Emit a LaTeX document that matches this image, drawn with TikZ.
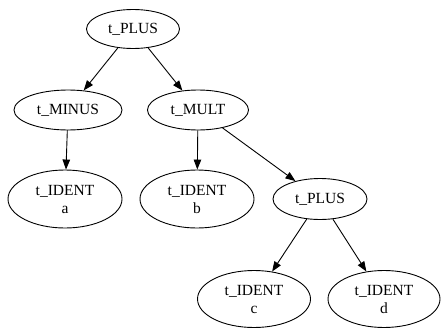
\documentclass[tikz,border=0pt]{standalone}
\usepackage{fontspec}
\setmainfont{Liberation Serif}
\usetikzlibrary{shapes.geometric,arrows.meta}
\tikzset{
  tnode/.style={draw,ellipse,inner sep=0pt,line width=0.9pt,align=center,
    font=\fontsize{15.5}{18}\selectfont},
  tedge/.style={line width=0.9pt,-{Triangle[length=10pt,width=7.5pt]}}
}
\begin{document}
\begin{tikzpicture}[x=1pt,y=-1pt]
            \useasboundingbox (0,0) rectangle (441,329);
            \node[tnode,minimum width=93pt,minimum height=39pt] (plus) at (133,29) {t\_PLUS};
            \node[tnode,minimum width=108pt,minimum height=40pt] (minus) at (68,110) {t\_MINUS};
            \node[tnode,minimum width=101pt,minimum height=40pt] (mult) at (198,110) {t\_MULT};
            \node[tnode,minimum width=114pt,minimum height=58pt] (ida) at (65,199) {t\_IDENT\\a};
            \node[tnode,minimum width=114pt,minimum height=58pt] (idb) at (197,199) {t\_IDENT\\b};
            \node[tnode,minimum width=94pt,minimum height=41pt] (plustwo) at (320,199) {t\_PLUS};
            \node[tnode,minimum width=113pt,minimum height=57pt] (idc) at (254,299) {t\_IDENT\\c};
            \node[tnode,minimum width=112pt,minimum height=57pt] (idd) at (384,299) {t\_IDENT\\d};
            \draw[tedge] (plus) -- (minus);
            \draw[tedge] (plus) -- (mult);
            \draw[tedge] (minus) -- (ida);
            \draw[tedge] (mult) -- (idb);
            \draw[tedge] (mult) -- (plustwo);
            \draw[tedge] (plustwo) -- (idc);
            \draw[tedge] (plustwo) -- (idd);
        \end{tikzpicture}
\end{document}
